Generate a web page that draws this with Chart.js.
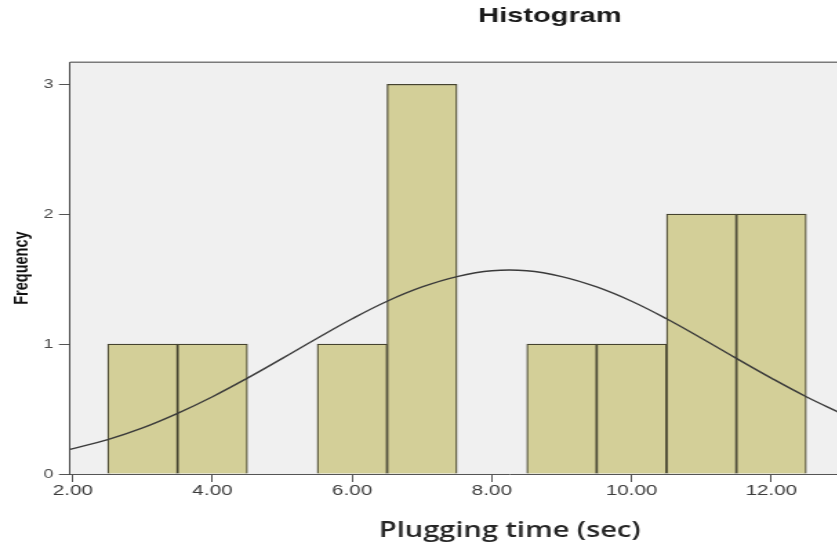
<!DOCTYPE html>
<html>
<head>
<meta charset="utf-8">
<title>Histogram</title>
<script src="https://cdn.jsdelivr.net/npm/chart.js@4/dist/chart.umd.min.js"></script>
<style>
    html, body {
        margin: 0;
        padding: 0;
        background: #ffffff;
        overflow: hidden;
    }

    #wrap {
        width: 837px;
        height: 546px;
        overflow: hidden;
    }

    /* the source picture is stretched sideways, so the canvas is too */
    #chart {
        transform: scaleX(1.38);
        transform-origin: 0 0;
    }
</style>
</head>
<body>
<div id="wrap">
    <canvas id="chart" width="797" height="546"></canvas>
</div>
<script>
"use strict";

// histogram bins (centre of each 1-unit bin) and counts
const binCenters = [3, 4, 5, 6, 7, 8, 9, 10, 11, 12];
const frequencies = [1, 1, 0, 1, 3, 0, 1, 1, 2, 2];

// normal curve, every half unit
const curveX = [1.96, 2.5, 3.0, 3.5, 4.0, 4.5, 5.0, 5.5, 6.0, 6.5, 7.0, 7.5, 8.0, 8.5, 9.0, 9.5, 10.0, 10.5, 11.0, 11.5, 12.0, 12.5, 13.0];
const curveY = [0.19, 0.265, 0.355, 0.467, 0.595, 0.738, 0.89, 1.045, 1.195, 1.33, 1.44, 1.52, 1.565, 1.565, 1.52, 1.44, 1.33, 1.195, 1.045, 0.89, 0.738, 0.595, 0.467];

// axis ticks
const xTickValues = [2, 4, 6, 8, 10, 12, 14];
const yTickValues = [0, 1, 2, 3];

const chartTitle = "Histogram";
const xAxisTitle = "Plugging time (sec)";
const yAxisTitle = "Frequency";

const plotBackground = {
    id: "plotBackground",
    beforeDraw(chart) {
        const {ctx, chartArea} = chart;
        ctx.save();
        ctx.fillStyle = "#f0f0f0";
        ctx.fillRect(chartArea.left, chartArea.top, chartArea.right - chartArea.left, chartArea.bottom - chartArea.top);
        ctx.restore();
    },
    afterDraw(chart) {
        const {ctx, chartArea} = chart;
        ctx.save();
        ctx.strokeStyle = "#7a7a7a";
        ctx.lineWidth = 1.5;
        ctx.beginPath();
        ctx.moveTo(chartArea.left, chartArea.top);
        ctx.lineTo(chartArea.right, chartArea.top);
        ctx.stroke();
        ctx.restore();
    }
};

const barData = binCenters.map((x, i) => ({x: x, y: frequencies[i] > 0 ? frequencies[i] : null}));
const curveData = curveX.map((x, i) => ({x: x, y: curveY[i]}));

new Chart(document.getElementById("chart").getContext("2d"), {
    type: "bar",
    data: {
        datasets: [
            {
                type: "line",
                data: curveData,
                borderColor: "#3a3a3a",
                borderWidth: 1.4,
                pointRadius: 0,
                fill: false,
                tension: 0.4,
                xAxisID: "x",
                yAxisID: "y",
                order: 0
            },
            {
                type: "bar",
                data: barData,
                backgroundColor: "#d3cf98",
                borderColor: "#45432f",
                borderWidth: 1.2,
                barPercentage: 1,
                categoryPercentage: 1,
                xAxisID: "x",
                yAxisID: "y",
                order: 1
            }
        ]
    },
    options: {
        responsive: false,
        animation: false,
        layout: {padding: {top: 0, right: 0, bottom: 0, left: 0}},
        plugins: {
            legend: {display: false},
            tooltip: {enabled: false},
            title: {
                display: true,
                text: chartTitle,
                color: "#1a1a1a",
                font: {family: "'Liberation Sans', Arial, sans-serif", size: 21, weight: "bold"},
                padding: {top: 4, bottom: 33}
            }
        },
        scales: {
            x: {
                type: "linear",
                min: 1.96,
                max: 14.55,
                offset: false,
                afterBuildTicks: (scale) => {
                    scale.ticks = xTickValues.map(v => ({value: v}));
                },
                afterFit: (scale) => {
                    scale.height = 72;
                },
                ticks: {
                    padding: 0,
                    color: "#3c3c3c",
                    font: {family: "'Liberation Sans', Arial, sans-serif", size: 15},
                    callback: (v) => Number(v).toFixed(2),
                    maxRotation: 0,
                    autoSkip: false
                },
                grid: {
                    offset: false,
                    drawOnChartArea: false,
                    tickLength: 8,
                    color: "#555555"
                },
                border: {color: "#555555", width: 1},
                title: {
                    display: true,
                    text: xAxisTitle,
                    color: "#262626",
                    font: {family: "'Open Sans', sans-serif", size: 21, weight: "600"},
                    padding: {top: 0, bottom: 2}
                }
            },
            y: {
                type: "linear",
                position: "left",
                min: 0,
                max: 3.17,
                afterBuildTicks: (scale) => {
                    scale.ticks = yTickValues.map(v => ({value: v}));
                },
                afterFit: (scale) => {
                    scale.width = 50.7;
                },
                ticks: {
                    padding: 4,
                    color: "#4a4a4a",
                    font: {family: "'Liberation Sans', Arial, sans-serif", size: 13},
                    callback: (v) => String(v)
                },
                grid: {
                    drawOnChartArea: false,
                    tickLength: 8,
                    color: "#555555"
                },
                border: {color: "#444444", width: 1},
                title: {
                    display: true,
                    text: yAxisTitle,
                    color: "#111111",
                    font: {family: "'Liberation Sans Narrow', 'Liberation Sans', Arial, sans-serif", size: 14.5, weight: "bold"},
                    padding: {top: 7, bottom: 0}
                }
            },
            // empty strip on the right, keeps the plot as wide as in the source
            yRight: {
                type: "linear",
                position: "right",
                grid: {display: false},
                border: {display: false},
                ticks: {display: false},
                afterFit: (scale) => {
                    scale.width = 109;
                }
            }
        }
    },
    plugins: [plotBackground]
});
</script>
</body>
</html>
